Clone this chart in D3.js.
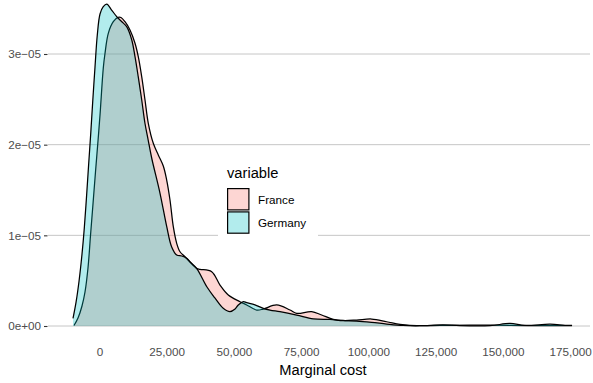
<!DOCTYPE html>
<html>
<head>
<meta charset="utf-8">
<script src="https://cdn.jsdelivr.net/npm/d3@7"></script>
<style>
  body { margin: 0; background: #fff; }
  svg { display: block; font-family: "Liberation Sans", Arial, sans-serif; }
</style>
</head>
<body>
<div id="chart"></div>
<script>
// density estimates (cost, density)
var franceCost = [-9480, -7990, -6510, -5390, -4280, -3350, -2420, -1490, -560, 190, 1410, 2050, 3270, 5130, 6990, 7990, 9480, 11340, 13200, 14420, 15690, 16920, 18140, 20000, 21860, 23720, 24980, 26210, 27440, 28700, 29930, 31790, 33640, 36130, 37360, 41710, 44800, 47880, 52230, 54720, 58440, 60890, 65870, 70820, 73310, 78890, 82600, 86920, 90630, 95610, 101190, 106770, 111710, 115430, 126580, 137730, 152600, 163760, 175650];
var franceDensity = [0.006e-5, 0.088e-5, 0.221e-5, 0.375e-5, 0.640e-5, 0.996e-5, 1.346e-5, 1.698e-5, 2.040e-5, 2.327e-5, 2.845e-5, 3.008e-5, 3.228e-5, 3.356e-5, 3.405e-5, 3.402e-5, 3.356e-5, 3.265e-5, 3.118e-5, 2.970e-5, 2.750e-5, 2.493e-5, 2.236e-5, 2.015e-5, 1.886e-5, 1.765e-5, 1.610e-5, 1.390e-5, 1.095e-5, 0.912e-5, 0.819e-5, 0.764e-5, 0.706e-5, 0.636e-5, 0.625e-5, 0.599e-5, 0.452e-5, 0.342e-5, 0.268e-5, 0.232e-5, 0.176e-5, 0.187e-5, 0.232e-5, 0.176e-5, 0.140e-5, 0.158e-5, 0.121e-5, 0.074e-5, 0.061e-5, 0.066e-5, 0.077e-5, 0.047e-5, 0.017e-5, 0.006e-5, 0.006e-5, 0.009e-5, 0.008e-5, 0.004e-5, 0.004e-5];

var germanyCost = [-9850, -8700, -7600, -6500, -5650, -4830, -4050, -3270, -2530, -1670, -820, 190, 1400, 2700, 4500, 6600, 8400, 10100, 12000, 13200, 14400, 15700, 16900, 18100, 19400, 22500, 25000, 26800, 28700, 30600, 32400, 33600, 36100, 39900, 42900, 46000, 48500, 50400, 51600, 53500, 54700, 57800, 60900, 63400, 67100, 73300, 79500, 85700, 90600, 95600, 101200, 106800, 112800, 119100, 127700, 134000, 145200, 152600, 158200, 167500, 173100, 175700];
var germanyDensity = [0.083e-5, 0.265e-5, 0.496e-5, 0.794e-5, 1.081e-5, 1.423e-5, 1.776e-5, 2.118e-5, 2.471e-5, 2.857e-5, 3.209e-5, 3.441e-5, 3.522e-5, 3.551e-5, 3.485e-5, 3.405e-5, 3.353e-5, 3.301e-5, 3.154e-5, 2.970e-5, 2.750e-5, 2.493e-5, 2.236e-5, 2.051e-5, 1.853e-5, 1.464e-5, 1.095e-5, 0.875e-5, 0.783e-5, 0.772e-5, 0.747e-5, 0.709e-5, 0.636e-5, 0.433e-5, 0.309e-5, 0.195e-5, 0.158e-5, 0.187e-5, 0.232e-5, 0.268e-5, 0.257e-5, 0.232e-5, 0.195e-5, 0.176e-5, 0.158e-5, 0.121e-5, 0.079e-5, 0.072e-5, 0.058e-5, 0.055e-5, 0.041e-5, 0.022e-5, 0.006e-5, 0.003e-5, 0.013e-5, 0.004e-5, 0.004e-5, 0.028e-5, 0.006e-5, 0.020e-5, 0.008e-5, 0.006e-5];

var seriesNames = ["France", "Germany"];
var seriesColors = ["#F8766D", "#00BFC4"];

var xTicks = [0, 25000, 50000, 75000, 100000, 125000, 150000, 175000];
var xTickLabels = ["0", "25,000", "50,000", "75,000", "100,000", "125,000", "150,000", "175,000"];
var yTicks = [0, 1e-5, 2e-5, 3e-5];
var yTickLabels = ["0e+00", "1e\u221205", "2e\u221205", "3e\u221205"];

var WIDTH = 593, HEIGHT = 383;
var PANEL_LEFT = 48, PANEL_RIGHT = 590;

var svg = d3.select("#chart").append("svg")
	.attr("width", WIDTH)
	.attr("height", HEIGHT);

var x = d3.scaleLinear().domain([0, 175000]).range([99.5, 570.2]);
var y = d3.scaleLinear().domain([0, 3e-5]).range([326, 54]);

// horizontal grid
svg.append("g").selectAll("line")
	.data(yTicks)
	.enter().append("line")
	.attr("x1", PANEL_LEFT).attr("x2", PANEL_RIGHT)
	.attr("y1", function(d) { return y(d); })
	.attr("y2", function(d) { return y(d); })
	.style("stroke", "#c6c6c6")
	.style("stroke-width", 1);

// y axis
var yAxis = svg.append("g")
	.attr("transform", "translate(" + (PANEL_LEFT - 0.5) + ",0)")
	.call(d3.axisLeft(y).tickValues(yTicks).tickSize(3.5).tickPadding(3)
		.tickFormat(function(d, i) { return yTickLabels[i]; }));
yAxis.select(".domain").remove();
yAxis.selectAll(".tick line").style("stroke", "#333").style("stroke-width", 1.1);
yAxis.selectAll(".tick text")
	.style("font-size", "11.7px")
	.style("fill", "#4d4d4d")
	.style("font-family", "Liberation Sans, Arial, sans-serif");

// x axis, no tick marks
var xAxis = svg.append("g")
	.attr("transform", "translate(0,326)")
	.call(d3.axisBottom(x).tickValues(xTicks).tickSize(0).tickPadding(22)
		.tickFormat(function(d, i) { return xTickLabels[i]; }));
xAxis.select(".domain").remove();
xAxis.selectAll(".tick text")
	.style("font-size", "11.7px")
	.style("fill", "#4d4d4d")
	.style("font-family", "Liberation Sans, Arial, sans-serif");

svg.append("text")
	.attr("x", (PANEL_LEFT + PANEL_RIGHT) / 2 + 4)
	.attr("y", 375)
	.attr("text-anchor", "middle")
	.style("font-size", "14.7px")
	.style("fill", "#000")
	.text("Marginal cost");

// densities
var series = [
	d3.zip(franceCost, franceDensity),
	d3.zip(germanyCost, germanyDensity)
];

var area = d3.area()
	.x(function(d) { return x(d[0]); })
	.y0(y(0))
	.y1(function(d) { return y(d[1]); })
	.curve(d3.curveCatmullRom.alpha(0.5));

var line = d3.line()
	.x(function(d) { return x(d[0]); })
	.y(function(d) { return y(d[1]); })
	.curve(d3.curveCatmullRom.alpha(0.5));

series.forEach(function(s, i) {
	svg.append("path")
		.attr("d", area(s))
		.style("fill", seriesColors[i])
		.style("fill-opacity", 0.3)
		.style("stroke", "none");
	svg.append("path")
		.attr("d", line(s))
		.style("fill", "none")
		.style("stroke", "#000")
		.style("stroke-width", 1.25)
		.style("stroke-linejoin", "round");
});

// legend
var legend = svg.append("g");
legend.append("rect")
	.attr("x", 218).attr("y", 158)
	.attr("width", 100).attr("height", 86)
	.style("fill", "#fff");
legend.append("text")
	.attr("x", 227).attr("y", 178)
	.style("font-size", "14.7px")
	.style("fill", "#000")
	.text("variable");

var keys = legend.selectAll(".key")
	.data(seriesNames)
	.enter().append("g")
	.attr("class", "key")
	.attr("transform", function(d, i) { return "translate(227," + (188 + i * 23.3) + ")"; });

keys.append("rect")
	.attr("width", 22.5).attr("height", 22.5)
	.style("fill", "#fff");
keys.append("rect")
	.attr("x", 0.6).attr("y", 0.6)
	.attr("width", 21.3).attr("height", 21.3)
	.style("fill", function(d, i) { return seriesColors[i]; })
	.style("fill-opacity", 0.3)
	.style("stroke", "#000")
	.style("stroke-width", 1.2);
keys.append("text")
	.attr("x", 31).attr("y", 11.5)
	.attr("dy", "0.35em")
	.style("font-size", "11.7px")
	.style("fill", "#000")
	.text(function(d) { return d; });
</script>
</body>
</html>
